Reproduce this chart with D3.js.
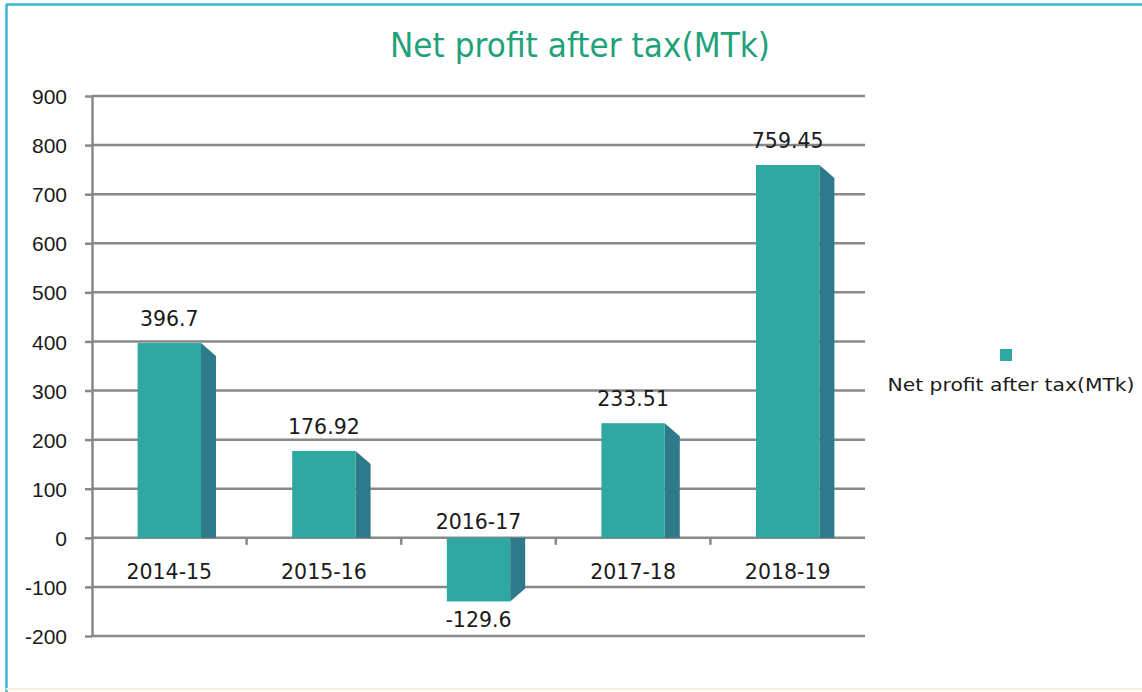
<!DOCTYPE html>
<meta charset="utf-8">
<style>
body {
    margin: 0;
    background: white;
    font-family: "DejaVu Sans", Verdana, sans-serif;
}

.grid line {
    stroke: #888;
    stroke-width: 2.5px;
}

.axis path,
.axis line {
    fill: none;
    stroke: #888;
    stroke-width: 2.5px;
}

.axis text {
    font-size: 21px;
    fill: #1a1a1a;
}

.label {
    font-size: 20.5px;
    fill: #1a1a1a;
    text-anchor: middle;
}
</style>

<body>
    <script src="https://d3js.org/d3.v7.min.js"></script>
    <script>
    // chart data
    var years = ["2014-15", "2015-16", "2016-17", "2017-18", "2018-19"];
    var profits = [396.7, 176.92, -129.6, 233.51, 759.45];
    var yTicks = [900, 800, 700, 600, 500, 400, 300, 200, 100, 0, -100, -200];
    var chartTitle = "Net profit after tax(MTk)";
    var legendLabel = "Net profit after tax(MTk)";

    var data = years.map(function(d, i) { return { year: d, value: profits[i] }; });

    // plot box (window.top is reserved, so use own names)
    var W = 1142, H = 692;
    var plotLeft = 92, plotRight = 865, plotTop = 96, plotBottom = 636;
    var depthX = 15, depthY = 13;
    var frontColor = "#2ea8a1", sideColor = "#2e7a8b";

    var svg = d3.select("body")
        .append("svg")
        .attr("width", W)
        .attr("height", H);

    // frame around chart
    svg.append("line").attr("x1", 6).attr("x2", W).attr("y1", 4.5).attr("y2", 4.5)
        .attr("stroke", "#3bb5d3").attr("stroke-width", 2.5);
    svg.append("line").attr("x1", 6.5).attr("x2", 6.5).attr("y1", 4).attr("y2", H)
        .attr("stroke", "#3bb5d3").attr("stroke-width", 2.5);
    svg.append("line").attr("x1", 6).attr("x2", W).attr("y1", 689).attr("y2", 689)
        .attr("stroke", "#f6f0dc").attr("stroke-width", 2);

    // title
    svg.append("text")
        .attr("x", 580)
        .attr("y", 57)
        .attr("text-anchor", "middle")
        .attr("fill", "#1fa27a")
        .style("font-size", "34px")
        .attr("textLength", 380)
        .attr("lengthAdjust", "spacingAndGlyphs")
        .text(chartTitle);

    // scales
    var x = d3.scaleBand()
        .domain(years)
        .range([plotLeft, plotRight])
        .padding(0);

    var y = d3.scaleLinear()
        .domain([-200, 900])
        .range([plotBottom, plotTop]);

    var frontW = x.bandwidth() * 0.41;

    // horizontal gridlines
    svg.append("g")
        .attr("class", "grid")
        .selectAll("line")
        .data(yTicks)
        .enter()
        .append("line")
        .attr("x1", plotLeft)
        .attr("x2", plotRight)
        .attr("y1", function(d) { return y(d); })
        .attr("y2", function(d) { return y(d); });

    // y axis (plain hyphen for negatives, as in the original)
    svg.append("g")
        .attr("class", "axis")
        .attr("transform", "translate(" + plotLeft + ",0)")
        .call(d3.axisLeft(y).tickValues(yTicks).tickFormat(String)
            .tickSize(7).tickPadding(18).tickSizeOuter(0))
        .call(function(g) {
            g.selectAll("text").attr("dy", "0.36em");
        });

    // category tick marks on zero line
    svg.append("g")
        .attr("class", "axis")
        .selectAll("line")
        .data(years.slice(1))
        .enter()
        .append("line")
        .attr("x1", function(d) { return x(d); })
        .attr("x2", function(d) { return x(d); })
        .attr("y1", y(0))
        .attr("y2", y(0) + 7);

    var bars = svg.append("g")
        .selectAll("g")
        .data(data)
        .enter()
        .append("g");

    // side face
    bars.append("path")
        .attr("fill", sideColor)
        .attr("d", function(d) {
            var x1 = x(d.year) + (x.bandwidth() + frontW) / 2;
            var y0 = y(0), yv = y(d.value);
            var s = d.value >= 0 ? 1 : -1;
            return "M" + x1 + "," + yv +
                "L" + (x1 + depthX) + "," + (yv + s * depthY) +
                "L" + (x1 + depthX) + "," + y0 +
                "L" + x1 + "," + y0 + "Z";
        });

    // front face
    bars.append("rect")
        .attr("fill", frontColor)
        .attr("x", function(d) { return x(d.year) + (x.bandwidth() - frontW) / 2; })
        .attr("width", frontW)
        .attr("y", function(d) { return Math.min(y(d.value), y(0)); })
        .attr("height", function(d) { return Math.abs(y(d.value) - y(0)); });

    // value labels
    bars.append("text")
        .attr("class", "label")
        .attr("x", function(d) { return x(d.year) + x.bandwidth() / 2; })
        .attr("y", function(d) { return d.value >= 0 ? y(d.value) - 17 : y(d.value) + 26; })
        .text(function(d) { return d.value; });

    // category labels
    bars.append("text")
        .attr("class", "label")
        .attr("x", function(d) { return x(d.year) + x.bandwidth() / 2; })
        .attr("y", function(d) { return d.value >= 0 ? y(0) + 41 : y(0) - 9; })
        .text(function(d) { return d.year; });

    // legend
    svg.append("rect")
        .attr("x", 1000)
        .attr("y", 349)
        .attr("width", 12)
        .attr("height", 12)
        .attr("fill", frontColor);

    svg.append("text")
        .attr("x", 1011)
        .attr("y", 391)
        .attr("text-anchor", "middle")
        .attr("fill", "#1a1a1a")
        .style("font-size", "17px")
        .attr("textLength", 247)
        .attr("lengthAdjust", "spacingAndGlyphs")
        .text(legendLabel);
    </script>
</body>
